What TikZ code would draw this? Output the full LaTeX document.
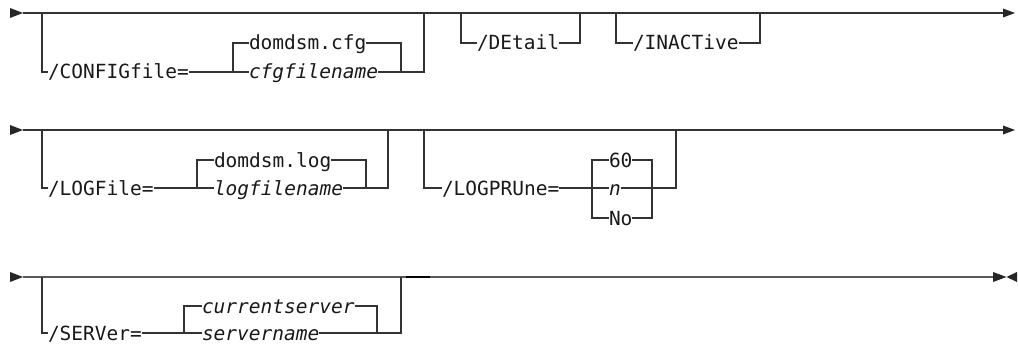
\documentclass[tikz,border=0pt]{standalone}
\usepackage{fontspec}
\setmonofont{DejaVu Sans Mono}
\tikzset{
kw/.style={font=\fontsize{19.5}{20}\ttfamily,inner sep=0pt,outer sep=0pt,anchor=west,
  text height=14pt,text depth=0pt,text=black!90},
var/.style={kw,font=\fontsize{19.5}{20}\ttfamily\itshape},
rail/.style={draw=black!80}
}
\begin{document}
\begin{tikzpicture}[x=1pt,y=-1pt,line width=1.1pt,line join=miter,line cap=butt]
\useasboundingbox (0,0) rectangle (1018,345);
% start markers and main lines
\foreach \r in {13,130,277}{\fill[black!85] (10,\r-5)--(23,\r)--(10,\r+5)--cycle;}
\draw[rail] (23,13)--(1003,13);
\draw[rail] (23,130)--(1003,130);
\draw[rail,draw=black!65] (23,277)--(993,277);
\foreach \r in {13,130}{\fill[black!85] (1003,\r-4.5)--(1015,\r)--(1003,\r+4.5)--cycle;}
\fill[black!85] (993,272)--(1006.5,277)--(993,282)--cycle;
\fill[black!85] (1017,272)--(1006.5,277)--(1017,282)--cycle;
\draw[line width=1.8pt,black] (406,277)--(430,277);

% row 1
\node[kw] (cfgkw) at (48,72) {/CONFIGfile=};
\node[kw] (cfgdef) at (249,43) {domdsm.cfg};
\node[var] (cfgvar) at (249,72) {cfgfilename};
\node[kw] (detail) at (477,43) {/DEtail};
\node[kw] (inact) at (633,43) {/INACTive};
\draw[rail] (42,13)|-(cfgkw.west);
\draw[rail] (cfgkw.east)--(cfgvar.west);
\draw[rail] (cfgdef.west)-|(233,72);
\draw[rail] (cfgdef.east)-|(401,72);
\draw[rail] (cfgvar.east)-|(424,13);
\draw[rail] (461,13)|-(detail.west);
\draw[rail] (detail.east)-|(580,13);
\draw[rail] (616,13)|-(inact.west);
\draw[rail] (inact.east)-|(760,13);

% row 2
\node[kw] (logkw) at (48,188) {/LOGFile=};
\node[kw] (logdef) at (214,160) {domdsm.log};
\node[var] (logvar) at (214,188) {logfilename};
\node[kw] (prkw) at (442,188) {/LOGPRUne=};
\node[kw] (pr60) at (609,160) {60};
\node[var] (prn) at (609,188) {n};
\node[kw] (prno) at (609,218) {No};
\draw[rail] (42,130)|-(logkw.west);
\draw[rail] (logkw.east)--(logvar.west);
\draw[rail] (logdef.west)-|(197,188);
\draw[rail] (logdef.east)-|(366,188);
\draw[rail] (logvar.east)-|(388,130);
\draw[rail] (424,130)|-(prkw.west);
\draw[rail] (prkw.east)--(prn.west);
\draw[rail] (pr60.west)-|(592,218)--(prno.west);
\draw[rail] (pr60.east)-|(652,218)--(prno.east);
\draw[rail] (prn.east)-|(676,130);

% row 3
\node[kw] (srvkw) at (48,333) {/SERVer=};
\node[var] (srvdef) at (202,306) {currentserver};
\node[var] (srvvar) at (202,333) {servername};
\draw[rail] (42,277)|-(srvkw.west);
\draw[rail] (srvkw.east)--(srvvar.west);
\draw[rail] (srvdef.west)-|(184,333);
\draw[rail] (srvdef.east)-|(377,333);
\draw[rail] (srvvar.east)-|(401,277);
\end{tikzpicture}
\end{document}
